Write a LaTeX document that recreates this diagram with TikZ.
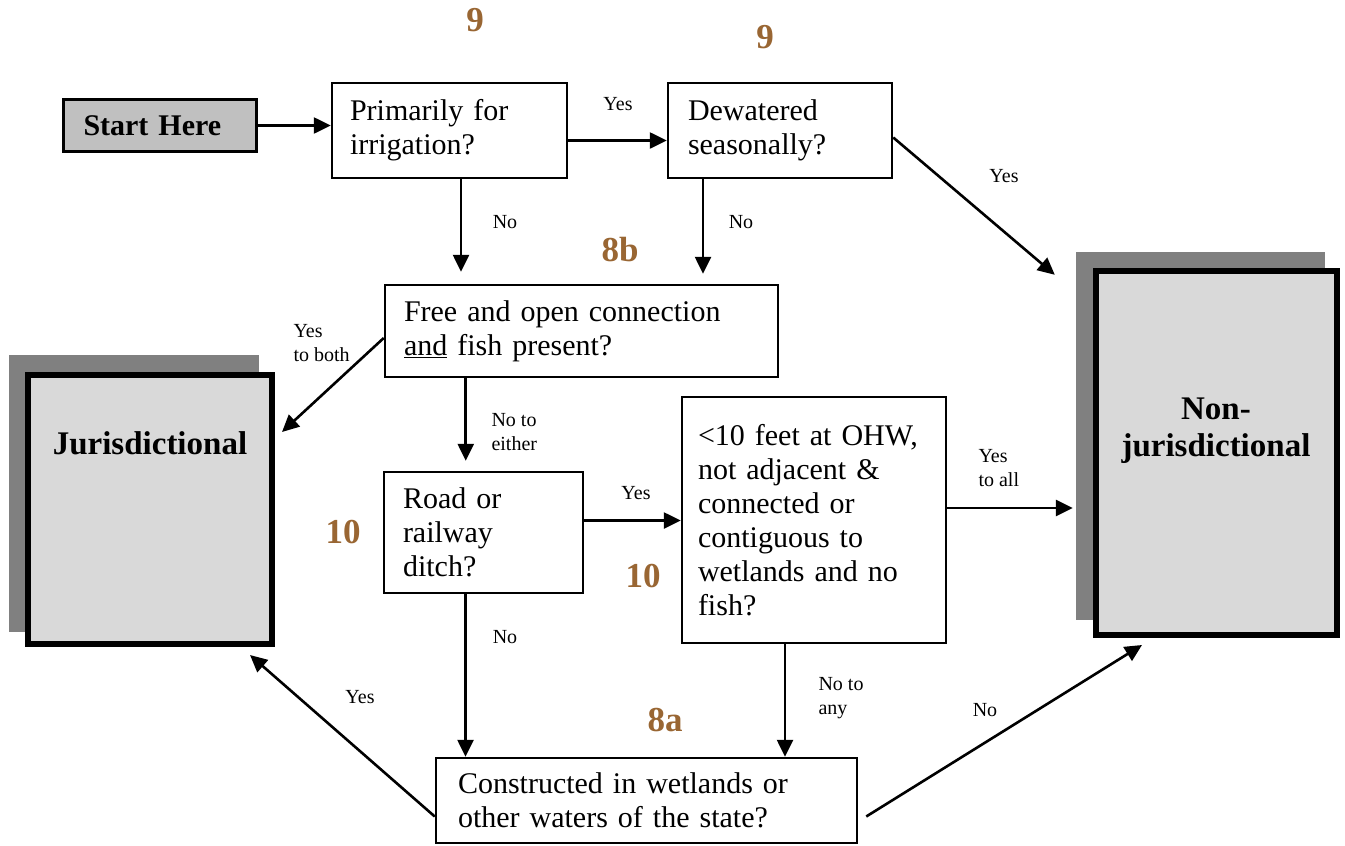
\documentclass[tikz,border=0pt]{standalone}
\usepackage{fontspec}
\setmainfont{Liberation Serif}
\usepackage{tikz}
\usetikzlibrary{positioning, arrows.meta}
\definecolor{stepbrown}{HTML}{996633}
\definecolor{startgray}{HTML}{C0C0C0}
\definecolor{endgray}{HTML}{D9D9D9}
\definecolor{shadowgray}{HTML}{808080}

\begin{document}
\begin{tikzpicture}[x=1pt, y=-1pt,
    question/.style={draw, line width=2.5pt, inner xsep=18pt, inner ysep=2pt, align=left,
                     font=\fontsize{30}{34}\selectfont},
    endbox/.style={draw, fill=endgray, line width=6pt, inner sep=0pt},
    endshadow/.style={fill=shadowgray, inner sep=0pt},
    endtext/.style={align=center, font=\fontsize{33}{37}\selectfont\bfseries},
    answer/.style={align=left, font=\fontsize{20}{24}\selectfont},
    stepnum/.style={text=stepbrown, font=\fontsize{35}{40}\selectfont\bfseries},
    flow/.style={line width=2.6pt, -{Triangle[length=17pt, width=16pt]}}]
  \useasboundingbox (0,0) rectangle (1345,846);

  % outcome boxes
  \node[endshadow, minimum width=250pt, minimum height=277pt] (jursh) at (134,493.5) {};
  \node[endbox, minimum width=244pt, minimum height=269pt] (jur) at (150,509.5) {};
  \node[endtext] (jurtext) at (150,443) {Jurisdictional};
  \node[endshadow, minimum width=249pt, minimum height=368pt] (nonjsh) at (1200.5,436) {};
  \node[endbox, minimum width=241pt, minimum height=364pt] (nonj) at (1216.5,453) {};
  \node[endtext] (nonjtext) at (1216,431) {Non-\\jurisdictional};

  % questions
  \node[draw, fill=startgray, line width=3pt, inner xsep=20pt, text width=153pt, align=left,
        minimum height=52pt, font=\fontsize{30}{34}\selectfont\bfseries] (start) at (160,125.5) {Start Here};
  \node[question, text width=199pt, minimum height=95pt] (irr) at (449.5,130.5) {Primarily for\\irrigation?};
  \node[question, text width=184pt, inner xsep=20pt, minimum height=95pt] (dew) at (780,130.5) {Dewatered\\seasonally?};
  \node[question, text width=355pt, inner xsep=19pt, minimum height=92pt] (free) at (581.5,331)
       {Free and open connection\\\underline{and} fish present?};
  \node[question, text width=161pt, inner xsep=19pt, minimum height=121pt] (road) at (483.5,532.5)
       {Road or\\railway\\ditch?};
  \node[question, text width=232pt, inner xsep=16pt, minimum height=246pt] (ten) at (814,520)
       {<10 feet at OHW,\\not adjacent \&\\connected or\\contiguous to\\wetlands and no\\fish?};
  \node[question, text width=377pt, inner xsep=22pt, minimum height=85pt] (con) at (646.5,800.5)
       {Constructed in wetlands or\\other waters of the state?};

  % step numbers
  \node[stepnum] (s9a) at (475,20) {9};
  \node[stepnum] (s9b) at (765,37) {9};
  \node[stepnum] (s8b) at (620,250) {8b};
  \node[stepnum] (s10a) at (343,532) {10};
  \node[stepnum] (s10b) at (643,576) {10};
  \node[stepnum] (s8a) at (665,720) {8a};

  % connectors
  \draw[flow] (start.east) -- (start.east -| irr.west);
  \draw[flow] ([shift={(0,10)}]irr.east) -- ([shift={(0,10)}]irr.east -| dew.west);
  \draw[flow, shorten >=12pt] ([shift={(11.5,0)}]irr.south) -- ([shift={(11.5,0)}]irr.south |- free.north);
  \draw[flow, shorten >=10pt] ([shift={(-77,0)}]dew.south) -- ([shift={(-77,0)}]dew.south |- free.north);
  \draw[flow] ([shift={(0,7)}]dew.east) -- ([shift={(-21,23)}]nonjsh.north west);
  \draw[flow] ([shift={(0,7)}]free.west) -- ([shift={(7,60)}]jur.north east);
  \draw[flow, shorten >=10pt] ([shift={(82,0)}]free.south west) -- ([shift={(82,0)}]free.south west |- road.north);
  \draw[flow] ([shift={(0,-12)}]road.east) -- ([shift={(0,-12)}]road.east -| ten.west);
  \draw[flow, shorten >=3pt] ([shift={(0,-12)}]ten.east) -- ([shift={(0,-12)}]ten.east -| nonjsh.west);
  \draw[flow] ([shift={(-18,0)}]road.south) -- ([shift={(-18,0)}]road.south |- con.north);
  \draw[flow] ([shift={(-29,0)}]ten.south) -- ([shift={(-29,0)}]ten.south |- con.north);
  \draw[flow] ([shift={(0,16)}]con.west) -- ([shift={(-25,8)}]jur.south east);
  \draw[flow] ([shift={(8,16)}]con.east) -- ([shift={(49,7)}]nonj.south west);

  % answers
  \node[answer] (a1) at (618,104) {Yes};
  \node[answer] (a2) at (505,222) {No};
  \node[answer] (a3) at (741,222) {No};
  \node[answer] (a4) at (1004,176) {Yes};
  \node[answer, anchor=west] (a5) at (290,343) {Yes\\to both};
  \node[answer, anchor=west] (a6) at (488,432) {No to\\either};
  \node[answer] (a7) at (636,493) {Yes};
  \node[answer, anchor=west] (a8) at (975,468) {Yes\\to all};
  \node[answer] (a9) at (505,637) {No};
  \node[answer, anchor=west] (a10) at (815,698) {No to\\any};
  \node[answer] (a11) at (360,697) {Yes};
  \node[answer] (a12) at (985,710) {No};
\end{tikzpicture}
\end{document}
